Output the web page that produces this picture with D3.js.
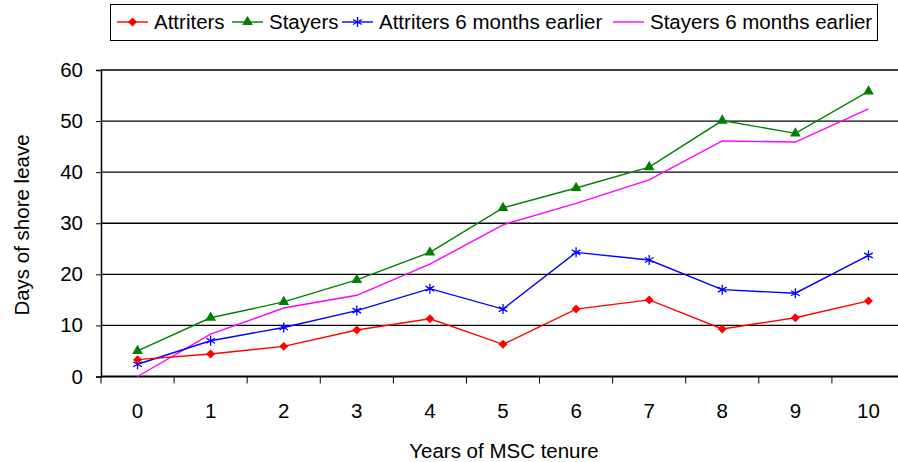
<!DOCTYPE html>
<meta charset="utf-8">
<script src="https://d3js.org/d3.v7.min.js"></script>
<style>
    body { margin: 0; background: #fff; }
    text { font-family: "Liberation Sans", Arial, sans-serif; fill: #000; }
</style>
<div id="chart"></div>
<script>
    // data
    var years = ["0", "1", "2", "3", "4", "5", "6", "7", "8", "9", "10"];
    var attriters = [3.3, 4.4, 5.9, 9.1, 11.3, 6.3, 13.2, 15.0, 9.3, 11.5, 14.8];
    var stayers = [5.0, 11.5, 14.6, 18.9, 24.3, 33.0, 36.9, 41.0, 50.1, 47.6, 55.8];
    var attriters6 = [2.4, 7.0, 9.6, 12.9, 17.2, 13.2, 24.3, 22.8, 17.0, 16.3, 23.7];
    var stayers6 = [0.0, 8.3, 13.4, 15.9, 22.0, 29.7, 33.9, 38.5, 46.1, 45.9, 52.4];
    var yTicks = [0, 10, 20, 30, 40, 50, 60];

    var series = [
        {name: "Attriters", values: attriters, color: "#ff0000", marker: "diamond"},
        {name: "Stayers", values: stayers, color: "#008000", marker: "triangle"},
        {name: "Attriters 6 months earlier", values: attriters6, color: "#0000ff", marker: "star"},
        {name: "Stayers 6 months earlier", values: stayers6, color: "#ff00ff", marker: "none"}
    ];

    var W = 898, H = 462;
    var fontSize = "20.5px";
    var svg = d3.select("#chart").append("svg")
        .attr("width", W).attr("height", H);

    // plot area runs a little past the right edge, like the original
    var x = d3.scaleBand().domain(years).range([101, 905]);
    var y = d3.scaleLinear().domain([0, 60]).range([376.5, 70]);

    // gridlines
    svg.append("g").selectAll("line")
        .data(yTicks.slice(1))
        .enter().append("line")
        .attr("x1", 101).attr("x2", W)
        .attr("y1", function(d) { return y(d); })
        .attr("y2", function(d) { return y(d); })
        .attr("stroke", "#000").attr("stroke-width", 1.3);

    // y axis
    var yAxis = svg.append("g")
        .attr("transform", "translate(101,0)")
        .call(d3.axisLeft(y).tickValues(yTicks).tickSize(5).tickPadding(13));
    yAxis.select(".domain").attr("stroke-width", 1.5);
    yAxis.selectAll("text").style("font-size", fontSize).style("font-family", "Liberation Sans, Arial, sans-serif");

    // x axis with ticks between categories
    var xAxis = svg.append("g")
        .attr("transform", "translate(0," + y(0) + ")")
        .call(d3.axisBottom(x).tickSize(0).tickPadding(27));
    xAxis.select(".domain").remove();
    xAxis.selectAll("text").style("font-size", fontSize).style("font-family", "Liberation Sans, Arial, sans-serif");
    svg.append("line")
        .attr("x1", 101).attr("x2", W)
        .attr("y1", y(0)).attr("y2", y(0))
        .attr("stroke", "#000").attr("stroke-width", 2.2);
    svg.append("g").selectAll("line")
        .data(years)
        .enter().append("line")
        .attr("x1", function(d) { return x(d); })
        .attr("x2", function(d) { return x(d); })
        .attr("y1", y(0)).attr("y2", y(0) + 7)
        .attr("stroke", "#000").attr("stroke-width", 1);

    // axis titles
    svg.append("text")
        .attr("transform", "translate(29,225) rotate(-90)")
        .attr("text-anchor", "middle")
        .style("font-size", fontSize)
        .text("Days of shore leave");
    svg.append("text")
        .attr("x", 504).attr("y", 458)
        .attr("text-anchor", "middle")
        .style("font-size", fontSize)
        .text("Years of MSC tenure");

    var cx = function(i) { return x(years[i]) + x.bandwidth() / 2; };
    var line = d3.line()
        .x(function(d, i) { return cx(i); })
        .y(function(d) { return y(d); });

    var markerPath = {
        diamond: d3.symbol().type(d3.symbolSquare).size(40),
        triangle: d3.symbol().type(d3.symbolTriangle).size(50),
        star: d3.symbol().type(d3.symbolAsterisk).size(70)
    };

    function drawMarker(g, type, color, px, py) {
        if (type === "none") return;
        var p = g.append("path")
            .attr("d", markerPath[type]())
            .attr("transform", "translate(" + px + "," + py + ")" + (type === "diamond" ? " rotate(45)" : ""));
        if (type === "star") p.attr("fill", "none").attr("stroke", color).attr("stroke-width", 1.3);
        else p.attr("fill", color);
    }

    // draw in reverse so Attriters ends on top
    series.slice().reverse().forEach(function(s) {
        var g = svg.append("g");
        g.append("path")
            .datum(s.values)
            .attr("d", line)
            .attr("fill", "none")
            .attr("stroke", s.color)
            .attr("stroke-width", 1.4);
        s.values.forEach(function(v, i) {
            drawMarker(g, s.marker, s.color, cx(i), y(v));
        });
    });

    // legend
    var legend = svg.append("g");
    legend.append("rect")
        .attr("x", 110.5).attr("y", 4.5).attr("width", 767).attr("height", 36)
        .attr("fill", "#fff").attr("stroke", "#000").attr("stroke-width", 1);
    var legendX = [117, 232, 342, 613];
    series.forEach(function(s, i) {
        var lx = legendX[i];
        legend.append("line")
            .attr("x1", lx).attr("x2", lx + 31)
            .attr("y1", 22).attr("y2", 22)
            .attr("stroke", s.color).attr("stroke-width", 1.4);
        drawMarker(legend, s.marker, s.color, lx + 15.5, 22);
        legend.append("text")
            .attr("x", lx + 37).attr("y", 29)
            .style("font-size", fontSize)
            .text(s.name);
    });
</script>
